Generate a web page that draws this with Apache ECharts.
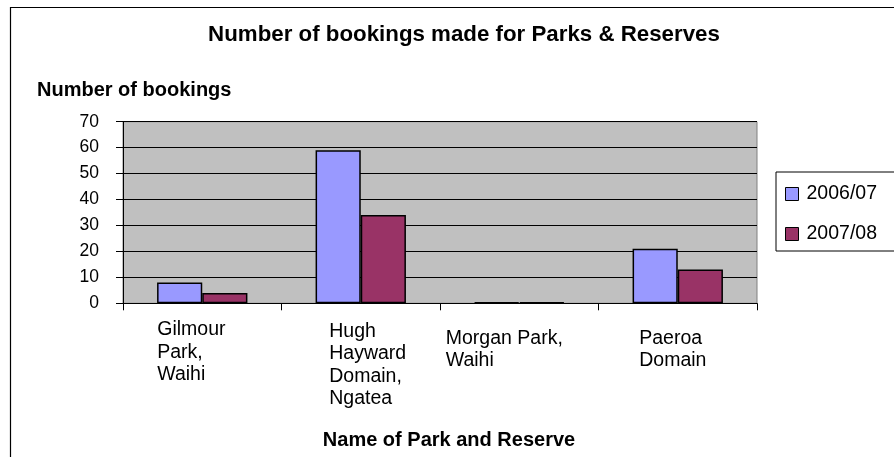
<!DOCTYPE html>
<html>
<head>
<meta charset="utf-8">
<script src="https://cdn.jsdelivr.net/npm/echarts@6/dist/echarts.min.js"></script>
<style>
html,body{margin:0;padding:0;background:#fff;}
#chart{width:894px;height:457px;}
</style>
</head>
<body>
<div id="chart"></div>
<script>
// ---- data ----
const chartTitle = 'Number of bookings made for Parks & Reserves';
const yAxisTitle = 'Number of bookings';
const xAxisTitle = 'Name of Park and Reserve';
const categories = ['Gilmour Park, Waihi', 'Hugh Hayward Domain, Ngatea', 'Morgan Park, Waihi', 'Paeroa Domain'];
const categoryLines = [
  ['Gilmour', 'Park,', 'Waihi'],
  ['Hugh', 'Hayward', 'Domain,', 'Ngatea'],
  ['Morgan Park,', 'Waihi'],
  ['Paeroa', 'Domain']
];
const seriesNames = ['2006/07', '2007/08'];
const bookings0607 = [8, 59, 0, 21];
const bookings0708 = [4, 34, 0, 13];
const yMin = 0, yMax = 70, yStep = 10;

// ---- styles ----
const FONT = "'Liberation Sans', Arial, sans-serif";
const labelBlockWidth = [90, 63, 147, 77];
const labelShift = [0, 1.6, 8.6, 8.6];
const rich = {};
categoryLines.forEach((_, i) => {
  rich['c' + i] = {
    width: labelBlockWidth[i], align: 'left', lineHeight: 22.6,
    fontSize: 19.5, fontFamily: FONT, color: '#000',
    padding: [labelShift[i] * 2, 0, 0, 0]
  };
});

const chart = echarts.init(document.getElementById('chart'), null, {renderer: 'canvas'});
chart.setOption({
  animation: false,
  backgroundColor: '#fff',
  textStyle: {fontFamily: FONT},
  graphic: [{
    type: 'rect', silent: true, z: -1,
    shape: {x: 10.5, y: 7.5, width: 1000, height: 600},
    style: {fill: 'none', stroke: '#000', lineWidth: 1.2}
  }],
  title: [
    {text: chartTitle, left: 464, top: 24, textAlign: 'center', padding: 0,
     textStyle: {fontSize: 22.3, fontWeight: 'bold', color: '#000', fontFamily: FONT}},
    {text: yAxisTitle, left: 37, top: 80.5, padding: 0,
     textStyle: {fontSize: 20, fontWeight: 'bold', color: '#000', fontFamily: FONT}},
    {text: xAxisTitle, left: 449, top: 430, textAlign: 'center', padding: 0,
     textStyle: {fontSize: 20, fontWeight: 'bold', color: '#000', fontFamily: FONT}}
  ],
  legend: {
    orient: 'vertical', left: 776, top: 172,
    padding: [12, 30, 7, 9], itemGap: 20,
    itemWidth: 13, itemHeight: 13, icon: 'rect',
    borderColor: '#000', borderWidth: 1, backgroundColor: '#fff',
    itemStyle: {borderColor: '#000', borderWidth: 1},
    textStyle: {fontSize: 19.5, color: '#000', fontFamily: FONT, padding: [0, 0, 0, 3]},
    data: seriesNames
  },
  grid: {
    left: 123, right: 137, top: 121.7, bottom: 153.7,
    show: true, backgroundColor: '#C0C0C0', borderColor: '#808080', borderWidth: 1
  },
  xAxis: {
    type: 'category', data: categories,
    axisLine: {show: true, lineStyle: {color: '#000', width: 1}},
    axisTick: {show: true, length: 7, lineStyle: {color: '#000'}},
    axisLabel: {
      margin: 15, interval: 0, align: 'center',
      formatter: function (value, idx) {
        return categoryLines[idx].map(l => '{c' + idx + '|' + l + '}').join('\n');
      },
      rich: rich
    },
    splitLine: {show: false}
  },
  yAxis: {
    type: 'value', min: yMin, max: yMax, interval: yStep,
    axisLine: {show: true, lineStyle: {color: '#000', width: 1}},
    axisTick: {show: true, length: 7, lineStyle: {color: '#000'}},
    axisLabel: {margin: 24, fontSize: 17.5, color: '#000', fontFamily: FONT},
    splitLine: {show: true, lineStyle: {color: '#000', width: 1}}
  },
  series: [
    {name: seriesNames[0], type: 'bar', data: bookings0607,
     barGap: '0%', barCategoryGap: '43%', barMinHeight: 1,
     itemStyle: {color: '#9999FF', borderColor: '#000', borderWidth: 1.5}},
    {name: seriesNames[1], type: 'bar', data: bookings0708,
     barGap: '0%', barCategoryGap: '43%', barMinHeight: 1,
     itemStyle: {color: '#993366', borderColor: '#000', borderWidth: 1.5}}
  ]
});
</script>
</body>
</html>
